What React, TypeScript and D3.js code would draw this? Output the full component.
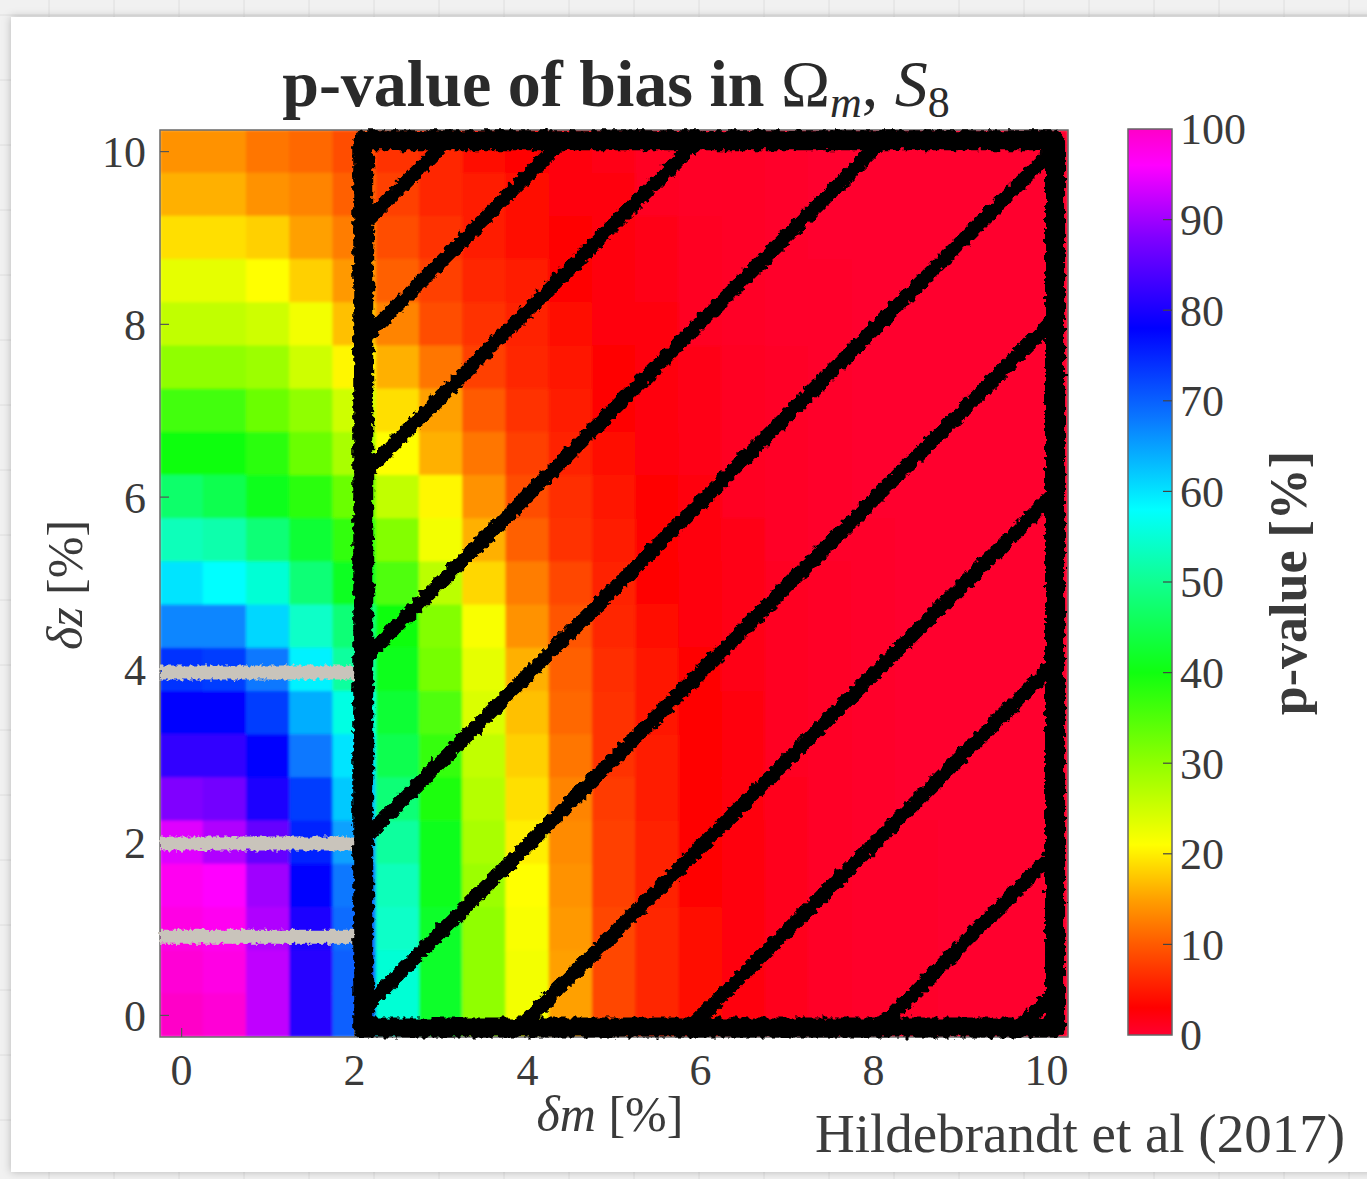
import React from 'react';
import * as d3 from 'd3';

// δm values (columns) and δz values (rows, top to bottom)
const deltaM = [0, 0.5, 1, 1.5, 2, 2.5, 3, 3.5, 4, 4.5, 5, 5.5, 6, 6.5, 7, 7.5, 8, 8.5, 9, 9.5, 10];
const deltaZ = [10, 9.5, 9, 8.5, 8, 7.5, 7, 6.5, 6, 5.5, 5, 4.5, 4, 3.5, 3, 2.5, 2, 1.5, 1, 0.5, 0];

// p-value [%] per δm column, listed from δz = 10 down to δz = 0
const pCol0 = [14, 16, 19, 23, 26, 30, 36, 40, 47, 53, 60, 67, 74, 78, 82, 88, 94, 97, 98, 99, 100];
const pCol1 = [14, 16, 19, 23, 26, 30, 36, 40, 45, 52, 58, 67, 73, 78, 82, 87, 91, 96, 97, 98, 99];
const pCol2 = [12, 14, 18, 21, 25, 29, 33, 38, 41, 48, 55, 61, 68, 73, 78, 80, 86, 90, 91, 92, 92];
const pCol3 = [11, 13, 15, 18, 22, 25, 30, 33, 38, 43, 48, 54, 59, 64, 68, 73, 75, 78, 80, 81, 81];
const pCol4 = [9, 10.5, 12.5, 14.5, 17, 20.5, 25, 28, 33, 37.5, 41.5, 48, 51, 56, 60, 62, 65, 68, 69, 70, 70];
const pCol5 = [7, 8, 9, 10.5, 13, 16, 19, 21, 26, 31, 35, 40, 41, 43, 45, 48, 51, 53, 54, 55, 55];
const pCol6 = [6, 6, 7, 8, 9, 12, 15, 16, 20.5, 22, 26.5, 31, 32, 35, 37, 39, 41, 41, 42, 42, 42];
const pCol7 = [4, 5, 5, 6, 7, 8, 10, 12, 14, 16, 18.5, 21.5, 23, 24, 26, 27, 28, 29, 30, 30, 30];
const pCol8 = [3, 4, 4, 5, 5.5, 6, 7, 8, 9, 10.5, 12.5, 14, 16, 17, 18, 19, 20, 21, 21.5, 22, 22];
const pCol9 = [2, 2.5, 3, 3, 4, 4.5, 5, 5.5, 6.5, 7, 8.5, 9.5, 10.5, 11, 12, 13, 13.5, 14, 14.5, 15, 15];
const pCol10 = [1.5, 2, 2, 2, 2.5, 3, 3.5, 4, 4.5, 5, 5.5, 6, 6.5, 7, 7, 7.5, 8, 8, 8.5, 8.5, 8.5];
const pCol11 = [1, 1, 1.5, 1.5, 2, 2, 2, 2.5, 3, 3.5, 3.5, 4, 4.5, 4.5, 5, 5, 5.5, 5.5, 6, 6, 6];
const pCol12 = [0.5, 0.5, 1, 1, 1, 1.5, 1.5, 1.5, 2, 2, 2.5, 2.5, 3, 3, 3, 3.5, 3.5, 3.5, 4, 4, 4];
const pCol13 = [0.5, 0.5, 0.5, 0.5, 0.5, 1, 1, 1, 1, 1.5, 1.5, 1.5, 1.5, 2, 2, 2, 2, 2.5, 2.5, 2.5, 2.5];
const pCol14 = [0.3, 0.3, 0.3, 0.4, 0.4, 0.5, 0.5, 0.6, 0.6, 0.7, 0.8, 0.8, 0.9, 1, 1, 1.1, 1.2, 1.2, 1.3, 1.3, 1.3];
const pCol15 = [0.2, 0.2, 0.2, 0.3, 0.3, 0.3, 0.3, 0.4, 0.4, 0.4, 0.5, 0.5, 0.5, 0.6, 0.6, 0.6, 0.7, 0.7, 0.7, 0.7, 0.7];
const pCol16 = [0.1, 0.1, 0.1, 0.2, 0.2, 0.2, 0.2, 0.2, 0.2, 0.3, 0.3, 0.3, 0.3, 0.3, 0.4, 0.4, 0.4, 0.4, 0.4, 0.4, 0.4];
const pCol17 = [0.1, 0.1, 0.1, 0.1, 0.1, 0.1, 0.1, 0.1, 0.2, 0.2, 0.2, 0.2, 0.2, 0.2, 0.2, 0.2, 0.3, 0.3, 0.3, 0.3, 0.3];
const pCol18 = [0.1, 0.1, 0.1, 0.1, 0.1, 0.1, 0.1, 0.1, 0.1, 0.1, 0.1, 0.1, 0.2, 0.2, 0.2, 0.2, 0.2, 0.2, 0.2, 0.2, 0.2];
const pCol19 = [0.1, 0.1, 0.1, 0.1, 0.1, 0.1, 0.1, 0.1, 0.1, 0.1, 0.1, 0.1, 0.1, 0.1, 0.1, 0.1, 0.1, 0.1, 0.1, 0.1, 0.1];
const pCol20 = [0.1, 0.1, 0.1, 0.1, 0.1, 0.1, 0.1, 0.1, 0.1, 0.1, 0.1, 0.1, 0.1, 0.1, 0.1, 0.1, 0.1, 0.1, 0.1, 0.1, 0.1];
const pColumns = [pCol0, pCol1, pCol2, pCol3, pCol4, pCol5, pCol6, pCol7, pCol8, pCol9, pCol10,
  pCol11, pCol12, pCol13, pCol14, pCol15, pCol16, pCol17, pCol18, pCol19, pCol20];

// tick labels
const axisTicks = [0, 2, 4, 6, 8, 10];
const cbarTicks = [0, 10, 20, 30, 40, 50, 60, 70, 80, 90, 100];

// colour map stops (p-value %)
const cmapStops = [0, 3, 10, 15, 21, 30, 40, 50, 58, 68, 78, 88, 96, 100];
const cmapColors = ['#ff0030', '#ff0000', '#ff5a00', '#ffa000', '#ffff00', '#90ff00', '#10ff10',
  '#10ff90', '#00ffff', '#0a78ff', '#0000ff', '#8000ff', '#ff00ff', '#ff00c8'];

// hand-drawn annotation: hatched box (δm from 2) with diagonal lines δz = δm + offset
const boxDeltaM = [2.1, 10.1];
const boxDeltaZ = [-0.14, 10.13];
const hatchOffsets = [7.05, 5.72, 4.16, 2.02, -0.06, -2.03, -4.05, -6.02, -8.21, -9.83];
// grey strikes at these δz values, across δm < 2
const greyStrikes = [3.97, 1.99, 0.91];
const greyRange = [-0.25, 2.03];

const W = 1367;
const H = 1179;

export default function App() {
  const x = d3.scaleLinear().domain([-0.25, 10.25]).range([160, 1068]);
  const y = d3.scaleLinear().domain([-0.25, 10.25]).range([1037, 130]);
  const color = d3.scaleLinear<string>().domain(cmapStops).range(cmapColors).interpolate(d3.interpolateRgb);
  const cy = d3.scaleLinear().domain([0, 100]).range([1035, 129]);
  const cw = x(0.5) - x(0);
  const ch = y(0) - y(0.5);

  const cells: { m: number; z: number; p: number }[] = [];
  pColumns.forEach((col, i) => col.forEach((p, j) => cells.push({ m: deltaM[i], z: deltaZ[j], p })));

  const hatch = hatchOffsets.map((b) => {
    const m0 = Math.max(boxDeltaM[0], boxDeltaZ[0] - b);
    const m1 = Math.min(boxDeltaM[1], boxDeltaZ[1] - b);
    return { x1: x(m0), y1: y(m0 + b), x2: x(m1), y2: y(m1 + b) };
  });

  const line = d3.line<[number, number]>().x((d) => x(d[0])).y((d) => y(d[1]));
  const boxPath = line([
    [boxDeltaM[0], boxDeltaZ[0]],
    [boxDeltaM[0], boxDeltaZ[1]],
    [boxDeltaM[1], boxDeltaZ[1]],
    [boxDeltaM[1], boxDeltaZ[0]],
    [boxDeltaM[0], boxDeltaZ[0]],
  ]);

  const serif = '"Liberation Serif", "DejaVu Serif", serif';
  const textCol = '#3a3a3a';
  const gridXs = d3.range(-16, W, 65);
  const gridYs = d3.range(-50, H, 65);

  return (
    <svg width={W} height={H} style={{ position: 'absolute', left: 0, top: 0 }} fontFamily={serif}>
      <defs>
        <linearGradient id="cbar" x1="0" y1="1" x2="0" y2="0">
          {cmapStops.map((s, i) => (
            <stop key={i} offset={`${s}%`} stopColor={cmapColors[i]} />
          ))}
        </linearGradient>
        <filter id="soft" x="-2%" y="-2%" width="104%" height="104%">
          <feGaussianBlur stdDeviation="1.6" />
        </filter>
        <filter id="rough" x="-5%" y="-5%" width="110%" height="110%">
          <feTurbulence type="fractalNoise" baseFrequency="0.18" numOctaves="2" seed="3" result="n" />
          <feDisplacementMap in="SourceGraphic" in2="n" scale="8" xChannelSelector="R" yChannelSelector="G" />
        </filter>
        <filter id="roughGrey" x="-5%" y="-50%" width="110%" height="200%">
          <feTurbulence type="fractalNoise" baseFrequency="0.25" numOctaves="2" seed="7" result="n" />
          <feDisplacementMap in="SourceGraphic" in2="n" scale="7" xChannelSelector="R" yChannelSelector="G" />
        </filter>
        <filter id="shadow" x="-5%" y="-5%" width="110%" height="110%">
          <feDropShadow dx="0" dy="0" stdDeviation="4" floodColor="#000" floodOpacity="0.25" />
        </filter>
        <clipPath id="plotClip">
          <rect x={160} y={130} width={908} height={907} />
        </clipPath>
      </defs>

      {/* page background with notebook grid */}
      <rect x={0} y={0} width={W} height={H} fill="#f1f1f1" />
      {gridXs.map((gx, i) => (
        <line key={`gx${i}`} x1={gx} x2={gx} y1={0} y2={H} stroke="#dedede" strokeWidth={1} />
      ))}
      {gridYs.map((gy, i) => (
        <line key={`gy${i}`} x1={0} x2={W} y1={gy} y2={gy} stroke="#dedede" strokeWidth={1} />
      ))}
      <rect x={11} y={17} width={W + 20} height={1155} fill="#ffffff" filter="url(#shadow)" />

      {/* title */}
      <text x={616} y={106} textAnchor="middle" fontSize={66} fill="#2a2a2a">
        <tspan fontWeight="bold">p-value of bias in </tspan>
        <tspan>Ω</tspan>
        <tspan fontStyle="italic" fontSize={44} dy={11}>m</tspan>
        <tspan dy={-11}>, </tspan>
        <tspan fontStyle="italic">S</tspan>
        <tspan fontSize={44} dy={11}>8</tspan>
      </text>

      {/* heatmap */}
      <g clipPath="url(#plotClip)">
        <g filter="url(#soft)">
          {cells.map((c, i) => (
            <rect
              key={i}
              x={x(c.m) - cw / 2 - 0.5}
              y={y(c.z) - ch / 2 - 0.5}
              width={cw + 1}
              height={ch + 1}
              fill={color(c.p)}
            />
          ))}
        </g>
      </g>

      {/* axes frame and ticks */}
      <rect x={160} y={130} width={908} height={907} fill="none" stroke="#6a6a6a" strokeWidth={1.5} />
      {axisTicks.map((t) => (
        <g key={`t${t}`} stroke="#555" strokeWidth={1.2}>
          <line x1={160} x2={169} y1={y(t)} y2={y(t)} />
          <line x1={x(t)} x2={x(t)} y1={1037} y2={1028} />
        </g>
      ))}
      {axisTicks.map((t) => (
        <text key={`yl${t}`} x={146} y={y(t)} dy="0.35em" textAnchor="end" fontSize={44} fill={textCol}>
          {t}
        </text>
      ))}
      {axisTicks.map((t) => (
        <text key={`xl${t}`} x={x(t)} y={1085} textAnchor="middle" fontSize={44} fill={textCol}>
          {t}
        </text>
      ))}

      {/* axis labels */}
      <text x={610} y={1131} textAnchor="middle" fontSize={50} fill={textCol}>
        <tspan fontStyle="italic">δm</tspan>
        <tspan> [%]</tspan>
      </text>
      <text transform="translate(82,585) rotate(-90)" textAnchor="middle" fontSize={50} fill={textCol}>
        <tspan fontStyle="italic">δz</tspan>
        <tspan> [%]</tspan>
      </text>

      {/* grey strikes */}
      <g filter="url(#roughGrey)">
        {greyStrikes.map((z, i) => (
          <line key={`g${i}`} x1={x(greyRange[0])} x2={x(greyRange[1])} y1={y(z)} y2={y(z)}
            stroke="#c9c4bb" strokeWidth={14} />
        ))}
      </g>

      {/* hand-drawn hatched box */}
      <g filter="url(#rough)" stroke="#000" strokeLinecap="round" strokeLinejoin="round" fill="none">
        <path d={boxPath ?? ''} strokeWidth={20} />
        {hatch.map((h, i) => (
          <line key={`h${i}`} x1={h.x1} y1={h.y1} x2={h.x2} y2={h.y2} strokeWidth={14} />
        ))}
      </g>

      {/* colour bar */}
      <rect x={1128} y={129} width={44} height={906} fill="url(#cbar)" stroke="#666" strokeWidth={1.5} />
      {cbarTicks.map((t) => (
        <g key={`c${t}`}>
          {t > 0 && t < 100 && <line x1={1163} x2={1172} y1={cy(t)} y2={cy(t)} stroke="#444" strokeWidth={1.2} />}
          <text x={1180} y={cy(t)} dy="0.35em" fontSize={44} fill={textCol}>
            {t}
          </text>
        </g>
      ))}
      <text transform="translate(1306,583) rotate(-90)" textAnchor="middle" fontSize={52} fontWeight="bold" fill={textCol}>
        p-value [%]
      </text>

      {/* citation */}
      <text x={1345} y={1152} textAnchor="end" fontSize={55} fill="#3c3c3c">
        Hildebrandt et al (2017)
      </text>
    </svg>
  );
}
